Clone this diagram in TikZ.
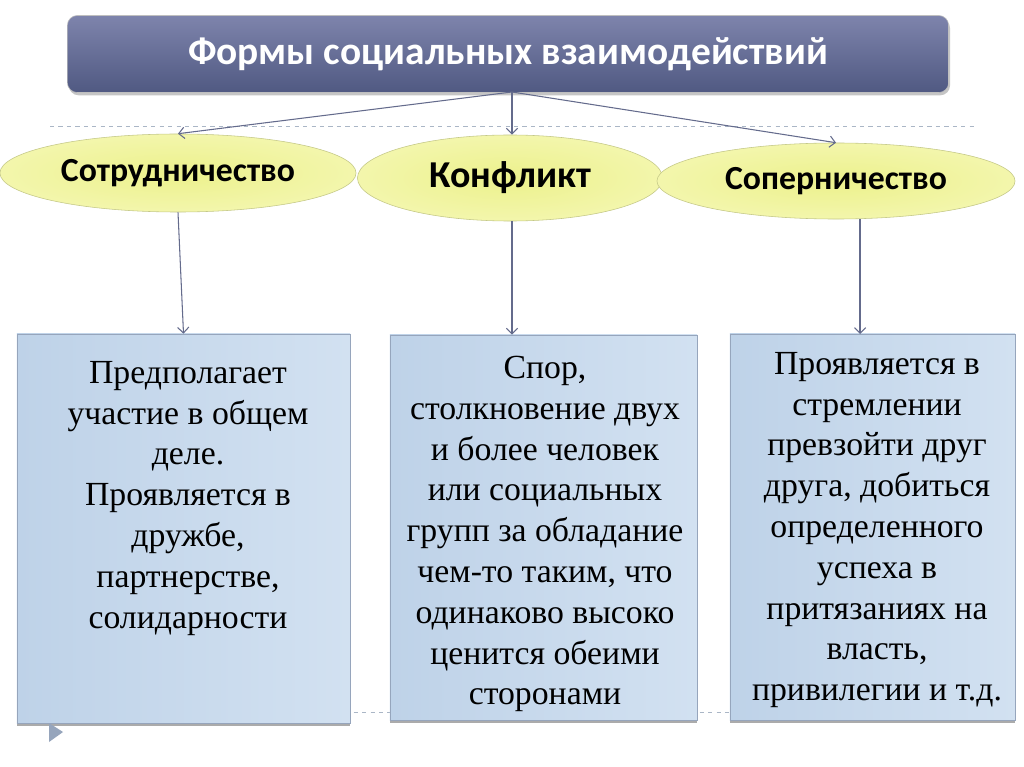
\documentclass[tikz,border=0pt]{standalone}
\usepackage{fontspec}
\setmainfont{Liberation Serif}
\newfontfamily\headfont{Carlito}
\usetikzlibrary{shapes.geometric,shadows,arrows.meta}
\definecolor{barTop}{RGB}{126,132,172}
\definecolor{barBot}{RGB}{80,89,130}
\definecolor{ovalIn}{RGB}{236,241,140}
\definecolor{ovalOut}{RGB}{243,246,172}
\definecolor{ovalLine}{RGB}{196,200,135}
\definecolor{boxL}{RGB}{190,210,232}
\definecolor{boxR}{RGB}{210,225,241}
\definecolor{boxLine}{RGB}{150,165,188}
\definecolor{arrowCol}{RGB}{100,107,140}
\definecolor{dashCol}{RGB}{170,182,198}

\begin{document}
\begin{tikzpicture}[x=0.025cm,y=-0.025cm,
    >={Straight Barb[length=4pt,width=8pt]},
    bar/.style={draw=gray!50,rounded corners=7pt,top color=barTop,bottom color=barBot,
        drop shadow={shadow xshift=1pt,shadow yshift=-2pt,fill=black!45,opacity=.5},
        text=white,font=\headfont\bfseries\fontsize{28}{32}\selectfont,inner sep=0pt},
    oval/.style={ellipse,draw=ovalLine,inner color=ovalIn,outer color=ovalOut,inner sep=0pt,
        font=\headfont\bfseries\fontsize{24}{28}\selectfont},
    card/.style={draw=boxLine,left color=boxL,right color=boxR,inner sep=0pt,
        drop shadow={shadow xshift=0pt,shadow yshift=-2pt,fill=black!55,opacity=.6}},
    txt/.style={anchor=north,align=center,inner sep=0pt,font=\fontsize{24}{29}\selectfont},
    link/.style={draw=arrowCol,line width=0.75pt,->}]
        \fill[white] (0,0) rectangle (1024,767);
        \useasboundingbox (0,0) rectangle (1024,767);
        % dashed guide lines
        \draw[dashCol,dashed,line width=0.5pt] (50,126) -- (975,126);
        \draw[dashCol,dashed,line width=0.5pt] (50,712) -- (975,712);

        \node[bar,minimum width=22.025cm,minimum height=1.925cm] (t) at (508,54) {Формы социальных взаимодействий};
        \coordinate (o) at (512,92);

        \node[oval,minimum width=8.9cm,minimum height=1.95cm] (e1) at (178,173) {Сотрудничество};
        \node[oval,minimum width=7.625cm,minimum height=2.15cm,font=\headfont\bfseries\fontsize{27}{31}\selectfont] (e2) at (510,178) {Конфликт};
        \node[oval,minimum width=8.95cm,minimum height=1.9cm] (e3) at (836,181) {Соперничество};

        \node[card,minimum width=8.325cm,minimum height=9.725cm] (b1) at (183.5,528.5) {};
        \node[card,minimum width=7.675cm,minimum height=9.625cm] (b2) at (543.5,527.5) {};
        \node[card,minimum width=7.125cm,minimum height=9.65cm] (b3) at (872.5,527) {};

        \node[txt] (d1) at (188,361) {Предполагает\\участие в общем\\деле.\\Проявляется в\\дружбе,\\партнерстве,\\солидарности};
        \node[txt] (d2) at (545,356) {Спор,\\столкновение двух\\и более человек\\или социальных\\групп за обладание\\чем-то таким, что\\одинаково высоко\\ценится обеими\\сторонами};
        \node[txt] (d3) at (877,352) {Проявляется в\\стремлении\\превзойти друг\\друга, добиться\\определенного\\успеха в\\притязаниях на\\власть,\\привилегии и т.д.};

        \path[link] (o) -- (e1.north);
        \path[link] (o) -- (o |- e2.north);
        \path[link] (o) -- (e3.north);

        \path[link] (e1.south) -- (b1.north);
        \path[link] (o |- e2.south) -- (o |- b2.north);
        \coordinate (c3) at (860,334);
        \path[link] (e3.south -| c3) -- (c3);

        \fill[boxLine] (49,723) -- (63,732) -- (49,742) -- cycle;
    \end{tikzpicture}
\end{document}
